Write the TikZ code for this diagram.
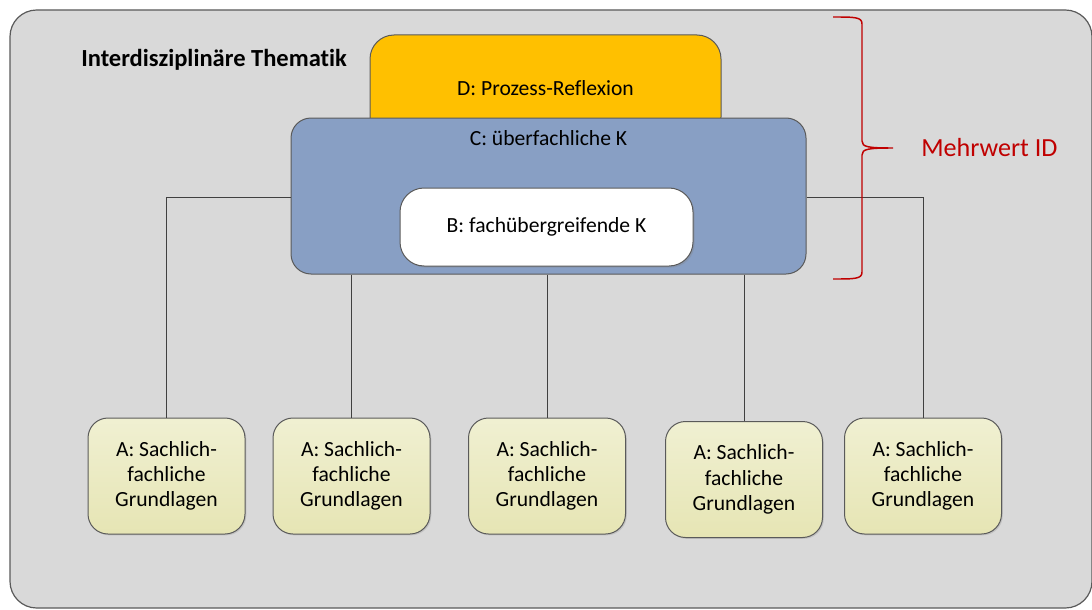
\documentclass[tikz,border=0pt]{standalone}
\usepackage{fontspec}
\setmainfont[Ligatures=NoCommon]{Carlito}
\usetikzlibrary{shadows}
\definecolor{outerfill}{HTML}{D9D9D9}
\definecolor{outerline}{HTML}{5A5A5A}
\definecolor{dorange}{HTML}{FFC000}
\definecolor{cblue}{HTML}{889FC4}
\definecolor{atop}{HTML}{F0F0D2}
\definecolor{abot}{HTML}{E6E5B4}
\definecolor{bracered}{HTML}{C00000}
\definecolor{linegray}{HTML}{404040}
\tikzset{
  boxtext/.style={font=\fontsize{16.2}{19}\selectfont, align=center, inner sep=0pt},
  rbox/.style={draw=outerline, line width=0.75pt, boxtext},
  abox/.style={rbox, rounded corners=15pt, top color=atop, bottom color=abot,
     minimum width=117.75pt, minimum height=87pt,
     drop shadow={shadow xshift=1pt, shadow yshift=-1pt, opacity=0.25}},
  conn/.style={draw=linegray, line width=0.75pt},
}
\begin{document}
\begin{tikzpicture}[x=0.75pt, y=-0.75pt]
\useasboundingbox (0,0) rectangle (1092,610);
% outer panel
\node[draw=outerline, fill=outerfill, line width=0.9pt, rounded corners=20pt,
      minimum width=811.5pt, minimum height=448.5pt, inner sep=0pt] (outer) at (551,309) {};
\node[font=\fontsize{18.4}{21}\selectfont\bfseries, anchor=west, inner sep=0pt] (title) at (81,60) {Interdisziplinäre Thematik};
% D box
\node[rbox, fill=dorange, rounded corners=18pt, minimum width=263.25pt, minimum height=79.5pt] (D) at (545.5,88) {D: Prozess-Reflexion};
% A boxes
\node[abox] (A1) at (166.5,476) {A: Sachlich-\\fachliche\\Grundlagen};
\node[abox] (A2) at (351.5,476) {A: Sachlich-\\fachliche\\Grundlagen};
\node[abox] (A3) at (547,476) {A: Sachlich-\\fachliche\\Grundlagen};
\node[abox] (A4) at (744,479.5) {A: Sachlich-\\fachliche\\Grundlagen};
\node[abox] (A5) at (923,476) {A: Sachlich-\\fachliche\\Grundlagen};
% C box
\node[rbox, fill=cblue, rounded corners=15pt, minimum width=386.25pt, minimum height=117pt] (C) at (548.5,196) {};
\node[boxtext] (ctext) at (548.5,138) {C: überfachliche K};
% B box
\node[rbox, fill=white, rounded corners=18pt, minimum width=219.75pt, minimum height=58.5pt,
      drop shadow={shadow xshift=1.2pt, shadow yshift=-1.2pt, opacity=0.3}] (B) at (546.5,227) {B: fachübergreifende K};
% connectors
\coordinate (cl) at (166.5,197);
\coordinate (cr) at (923,197);
\draw[conn] (C.west |- cl) -- (cl) -- (A1.north);
\draw[conn] (C.east |- cr) -- (cr) -- (A5.north);
\draw[conn] (C.south -| A2.north) -- (A2.north);
\draw[conn] (C.south -| A3.north) -- (A3.north);
\draw[conn] (C.south -| A4.north) -- (A4.north);
% brace
\draw[bracered, line width=1.1pt]
  (833,17) .. controls (855,17) and (862,17) .. (862,24)
  -- (862,141) .. controls (862,147) and (868,148) .. (893,148)
  .. controls (868,148) and (862,149) .. (862,155)
  -- (862,272) .. controls (862,279) and (855,279) .. (833,279);
\node[text=bracered, font=\fontsize{19.6}{23}\selectfont, anchor=west, inner sep=0pt] (mw) at (921,148) {Mehrwert ID};
\end{tikzpicture}
\end{document}
